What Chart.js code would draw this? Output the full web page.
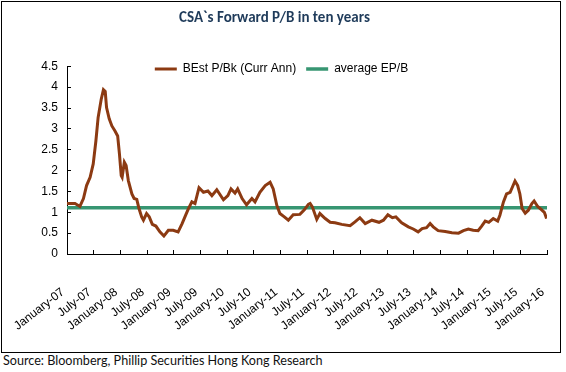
<!DOCTYPE html>
<html>
<head>
<meta charset="utf-8">
<script src="https://cdn.jsdelivr.net/npm/chart.js@4/dist/chart.umd.min.js"></script>
<style>
  body { margin: 0; background: #fff; width: 566px; height: 372px; position: relative; overflow: hidden; }
  #frame { position: absolute; left: 1px; top: 1px; width: 560px; height: 352px; border: 1px solid #000; box-sizing: border-box; }
  #wrap { position: absolute; left: 2px; top: 2px; width: 557px; height: 349px; }
  #source { position: absolute; left: 3px; top: 353px; font: 12.6px Lato, "Open Sans", sans-serif; color: #111; }
</style>
</head>
<body>
<div id="frame"></div>
<div id="wrap"><canvas id="chart" width="557" height="349"></canvas></div>
<div id="source">Source: Bloomberg, Phillip Securities Hong Kong Research</div>
<script>
// months since January 2007
const months = [0, 1.8, 2.9, 3.7, 4.4, 5.2, 5.9, 6.5, 7.0, 7.7,
  8.2, 8.6, 8.9, 9.5, 10.1, 10.8, 11.4, 11.8, 12.2, 12.4,
  12.9, 13.3, 13.8, 14.6, 15.1, 15.7, 16.2, 16.8, 17.2, 17.9,
  18.5, 19.2, 20.0, 20.9, 21.8, 22.8, 23.9, 25.0, 25.9, 26.7,
  27.3, 28.1, 28.8, 29.7, 30.7, 31.7, 32.6, 33.7, 35.2, 36.2,
  36.9, 37.8, 38.4, 39.4, 40.4, 41.6, 42.3, 43.4, 44.6, 45.7,
  46.4, 47.2, 47.9, 48.9, 49.8, 50.9, 52.4, 53.4, 54.3, 54.7,
  55.2, 56.2, 56.9, 58.1, 59.2, 60.3, 61.8, 63.7, 64.8, 65.9,
  67.1, 68.6, 70.2, 71.2, 72.2, 73.2, 74.0, 75.3, 76.8, 77.9,
  79.0, 79.9, 80.9, 81.7, 82.4, 83.5, 85.1, 86.6, 88.1, 89.2,
  90.3, 91.4, 92.5, 93.3, 94.1, 94.9, 95.9, 96.9, 97.4, 98.2,
  98.9, 99.7, 100.2, 100.8, 101.4, 101.9, 102.4, 103.1, 103.8, 104.6,
  105.1, 105.9, 106.8, 107.4, 107.9]

const pbValues = [1.21, 1.21, 1.14, 1.33, 1.64, 1.84, 2.16, 2.71, 3.27, 3.71,
  3.94, 3.9, 3.51, 3.24, 3.07, 2.95, 2.83, 2.4, 1.88, 1.84,
  2.2, 2.12, 1.76, 1.44, 1.33, 1.31, 1.09, 0.89, 0.81, 0.97,
  0.89, 0.71, 0.67, 0.53, 0.43, 0.57, 0.57, 0.53, 0.73, 0.93,
  1.08, 1.25, 1.21, 1.59, 1.48, 1.51, 1.40, 1.54, 1.30, 1.40,
  1.56, 1.46, 1.56, 1.33, 1.18, 1.33, 1.25, 1.48, 1.64, 1.72,
  1.56, 1.17, 0.97, 0.89, 0.81, 0.94, 0.95, 1.06, 1.19, 1.21,
  1.13, 0.83, 0.97, 0.85, 0.76, 0.75, 0.71, 0.68, 0.77, 0.87,
  0.73, 0.81, 0.76, 0.81, 0.94, 0.87, 0.89, 0.75, 0.65, 0.6,
  0.53, 0.61, 0.63, 0.73, 0.65, 0.56, 0.54, 0.51, 0.50, 0.56,
  0.6, 0.57, 0.56, 0.67, 0.79, 0.76, 0.85, 0.79, 0.93, 1.25,
  1.44, 1.48, 1.6, 1.75, 1.64, 1.44, 1.09, 0.98, 1.05, 1.21,
  1.27, 1.14, 1.06, 1.0, 0.85]

const averagePB = 1.11
const averageSpan = [0, 108]

const tickLabels = ["January-07", "July-07", "January-08", "July-08", "January-09", "July-09",
  "January-10", "July-10", "January-11", "July-11", "January-12", "July-12",
  "January-13", "July-13", "January-14", "July-14", "January-15", "July-15", "January-16"]
const yTicks = [0, 0.5, 1, 1.5, 2, 2.5, 3, 3.5, 4, 4.5]

const axisFont = { family: "'Liberation Sans', Arial, sans-serif", size: 12 }

// legend sits inside the plot area, next to the 4.5 tick
const legendInside = {
  id: "legendInside",
  afterLayout(chart) {
    const lg = chart.legend
    const shift = 67 - 16 - lg.top
    lg.top += shift
    lg.bottom += shift
    lg.left += 7
    lg.right += 7
  }
}

new Chart(document.getElementById("chart"), {
  type: "line",
  data: {
    datasets: [
      {
        label: "BEst P/Bk (Curr Ann)",
        data: months.map((m, i) => ({ x: m, y: pbValues[i] })),
        borderColor: "#8c3a12",
        backgroundColor: "#8c3a12",
        borderWidth: 3,
        pointRadius: 0,
        tension: 0
      },
      {
        label: "average EP/B",
        data: averageSpan.map(m => ({ x: m, y: averagePB })),
        borderColor: "#379672",
        backgroundColor: "#379672",
        borderWidth: 3.5,
        pointRadius: 0
      }
    ]
  },
  plugins: [legendInside],
  options: {
    responsive: false,
    animation: false,
    layout: { padding: { left: 0, right: 12, top: 0, bottom: 0 } },
    plugins: {
      title: {
        display: true,
        text: "CSA`s Forward P/B in ten years",
        color: "#1f3b5a",
        font: { family: "Carlito, Lato, 'Noto Sans', sans-serif", size: 15, weight: "bold", lineHeight: 1.2 },
        padding: { top: 7, bottom: 7.3 }
      },
      legend: {
        display: true,
        labels: {
          color: "#000",
          font: { family: "'Liberation Sans', Arial, sans-serif", size: 12 },
          usePointStyle: true,
          pointStyle: "line",
          pointStyleWidth: 22,
          padding: 10
        }
      },
      tooltip: { enabled: false }
    },
    scales: {
      x: {
        type: "linear",
        min: 0,
        max: 108,
        afterFit: s => { s.height = 97; s.paddingLeft = 0; s.paddingRight = 0 },
        afterBuildTicks: s => { s.ticks = tickLabels.map((_, i) => ({ value: i * 6 })) },
        grid: { drawOnChartArea: false, drawTicks: true, tickLength: -4, color: "#000" },
        border: { color: "#000", width: 1 },
        ticks: {
          autoSkip: false,
          minRotation: 38,
          maxRotation: 38,
          padding: 35,
          labelOffset: -4,
          color: "#000",
          font: axisFont,
          callback: v => tickLabels[Math.round(v / 6)]
        }
      },
      y: {
        min: 0,
        max: 4.5,
        afterFit: s => { s.width = 65 },
        afterBuildTicks: s => { s.ticks = yTicks.map(v => ({ value: v })) },
        grid: { drawOnChartArea: false, drawTicks: true, tickLength: -4, color: "#000" },
        border: { color: "#000", width: 1 },
        ticks: {
          padding: 13,
          color: "#000",
          font: { family: "'Liberation Sans', Arial, sans-serif", size: 12 },
          callback: v => String(v)
        }
      }
    }
  }
})
</script>
</body>
</html>
